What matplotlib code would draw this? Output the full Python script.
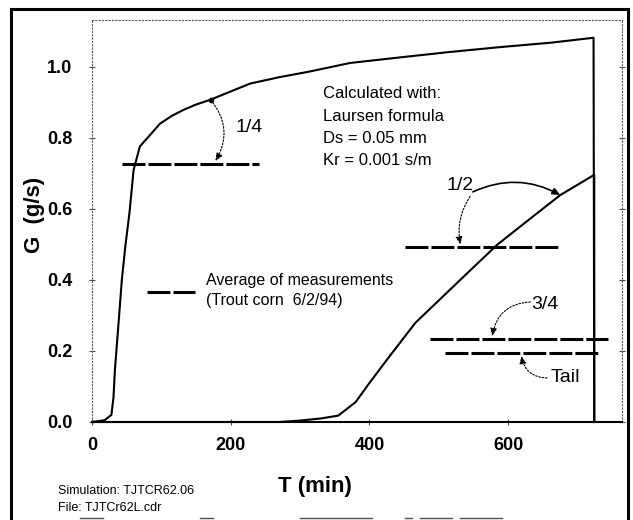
import matplotlib.pyplot as plt
from matplotlib.lines import Line2D

plt.rcParams['font.family'] = ['Liberation Sans', 'DejaVu Sans']

# calculated curve, front of the pulse (T in min, G in g/s)
t_front = [0, 18, 28, 31, 33, 36, 39, 43, 48, 54, 60, 69, 80, 98, 115, 132, 150,
           170, 194, 228, 270, 314, 372, 450, 516, 590, 661, 723, 724]
g_front = [0, 0.005, 0.02, 0.07, 0.146, 0.222, 0.297, 0.40, 0.494, 0.589, 0.71,
           0.776, 0.80, 0.84, 0.862, 0.879, 0.894, 0.907, 0.926, 0.953, 0.971,
           0.987, 1.011, 1.028, 1.042, 1.056, 1.068, 1.082, 0]

# calculated curve, tail of the pulse
t_tail = [0, 270, 300, 330, 355, 380, 400, 425, 466, 535, 584, 630, 675, 724, 724]
g_tail = [0, 0, 0.004, 0.01, 0.018, 0.056, 0.11, 0.175, 0.279, 0.408, 0.499,
          0.57, 0.639, 0.696, 0]

# averages of measurements (dashed levels)
avg_level = [0.727, 0.493, 0.234, 0.194]
avg_t_start = [43, 451, 487, 509]
avg_t_end = [241, 675, 744, 733]

legend_level = 0.366
legend_t = [79, 149]
legend_text = "Average of measurements\n(Trout corn  6/2/94)"
legend_text_pos = (164, 0.37)

note_text = "Calculated with:\nLaursen formula\nDs = 0.05 mm\nKr = 0.001 s/m"
note_pos = (333, 0.945)

# quarter labels and their pointer arrows
label_text = ['1/4', '1/2', '3/4', 'Tail']
label_pos = [(227, 0.83), (531, 0.667), (653, 0.33), (682, 0.124)]
arrow_from = [(171, 0.907), (549, 0.648), (545, 0.635), (632, 0.338), (656, 0.124)]
arrow_to = [(178, 0.735), (675, 0.639), (531, 0.50), (577, 0.242), (619, 0.186)]
arrow_rad = [-0.35, -0.25, 0.2, 0.4, -0.4]
arrow_solid = [False, True, False, False, False]

x_ticks = [0, 200, 400, 600]
y_ticks = [0.0, 0.2, 0.4, 0.6, 0.8, 1.0]

W, H = 633, 520
fig = plt.figure(figsize=(W / 100, H / 100), dpi=100)
ax = fig.add_axes([92 / W, 98 / H, 530 / W, 402 / H])
ax.set_xlim(0, 764)
ax.set_ylim(0, 1.132)

ax.plot(t_front, g_front, color='black', lw=1.5, clip_on=False, zorder=3)
ax.plot(t_tail, g_tail, color='black', lw=1.5, clip_on=False, zorder=3)

for lev, t0, t1 in zip(avg_level, avg_t_start, avg_t_end):
    ax.plot([t0, t1], [lev, lev], color='black', lw=2.2, dashes=(7.5, 1.0),
            zorder=2)
ax.plot(legend_t, [legend_level, legend_level], color='black', lw=2.2,
        dashes=(7.5, 1.0), zorder=2)
ax.text(legend_text_pos[0], legend_text_pos[1], legend_text, fontsize=11.5,
        ha='left', va='center', linespacing=1.4)

ax.text(note_pos[0], note_pos[1], note_text, fontsize=12, ha='left', va='top',
        linespacing=1.6)

for txt, (tx, ty) in zip(label_text, label_pos):
    ax.text(tx, ty, txt, fontsize=14, ha='center', va='center')

for (x0, y0), (x1, y1), rad, solid in zip(arrow_from, arrow_to, arrow_rad, arrow_solid):
    ax.annotate('', xy=(x1, y1), xytext=(x0, y0),
                arrowprops=dict(arrowstyle='-|>,head_length=0.45,head_width=0.2',
                                color='black', lw=1.2 if solid else 0.8,
                                linestyle='-' if solid else (0, (1.5, 1.5)),
                                shrinkA=0, shrinkB=0,
                                connectionstyle=f'arc3,rad={rad}'))
ax.plot(arrow_from[0][0], arrow_from[0][1], 'o', color='black', ms=3, zorder=4)

# axes styling: dotted frame, solid base line
for side in ['left', 'top', 'right']:
    ax.spines[side].set_linestyle((0, (1, 2)))
    ax.spines[side].set_linewidth(0.8)
    ax.spines[side].set_color('0.35')
ax.spines['bottom'].set_linewidth(1.5)

ax.set_xticks(x_ticks)
ax.set_yticks(y_ticks)
ax.set_yticklabels([f'{v:.1f}' for v in y_ticks])
ax.tick_params(axis='both', direction='inout', length=4, width=0.8, color='0.3',
               labelsize=13)
ax.tick_params(axis='y', pad=12, right=True)
ax.tick_params(axis='x', pad=9)
for lbl in ax.get_xticklabels() + ax.get_yticklabels():
    lbl.set_fontweight('bold')

ax.set_xlabel('T (min)', fontsize=16, fontweight='bold')
ax.xaxis.set_label_coords((315 - 92) / 530, -(476 - 422) / 402)
ax.set_ylabel('G  (g/s)', fontsize=16, fontweight='bold')
ax.yaxis.set_label_coords(-(92 - 45) / 530, (422 - 215) / 402)

# outer frame of the figure (bottom edge only partly visible in the scan)
frame = dict(transform=fig.transFigure, color='black', lw=2.2)
fig.add_artist(Line2D([11 / W, 11 / W], [0, 1 - 9 / H], **frame))
fig.add_artist(Line2D([11 / W, 628 / W], [1 - 9 / H, 1 - 9 / H], **frame))
fig.add_artist(Line2D([628 / W, 628 / W], [0, 1 - 9 / H], **frame))
for x0, x1 in [(80, 103), (200, 213), (300, 372), (405, 412), (420, 452), (460, 502)]:
    fig.add_artist(Line2D([x0 / W, x1 / W], [1 - 518 / H, 1 - 518 / H],
                          transform=fig.transFigure, color='0.3', lw=1.0))

fig.text(58 / W, 1 - 491 / H, "Simulation: TJTCR62.06", fontsize=9, va='center')
fig.text(58 / W, 1 - 508 / H, "File: TJTCr62L.cdr", fontsize=9, va='center')

fig.savefig('out.png', dpi=100)
